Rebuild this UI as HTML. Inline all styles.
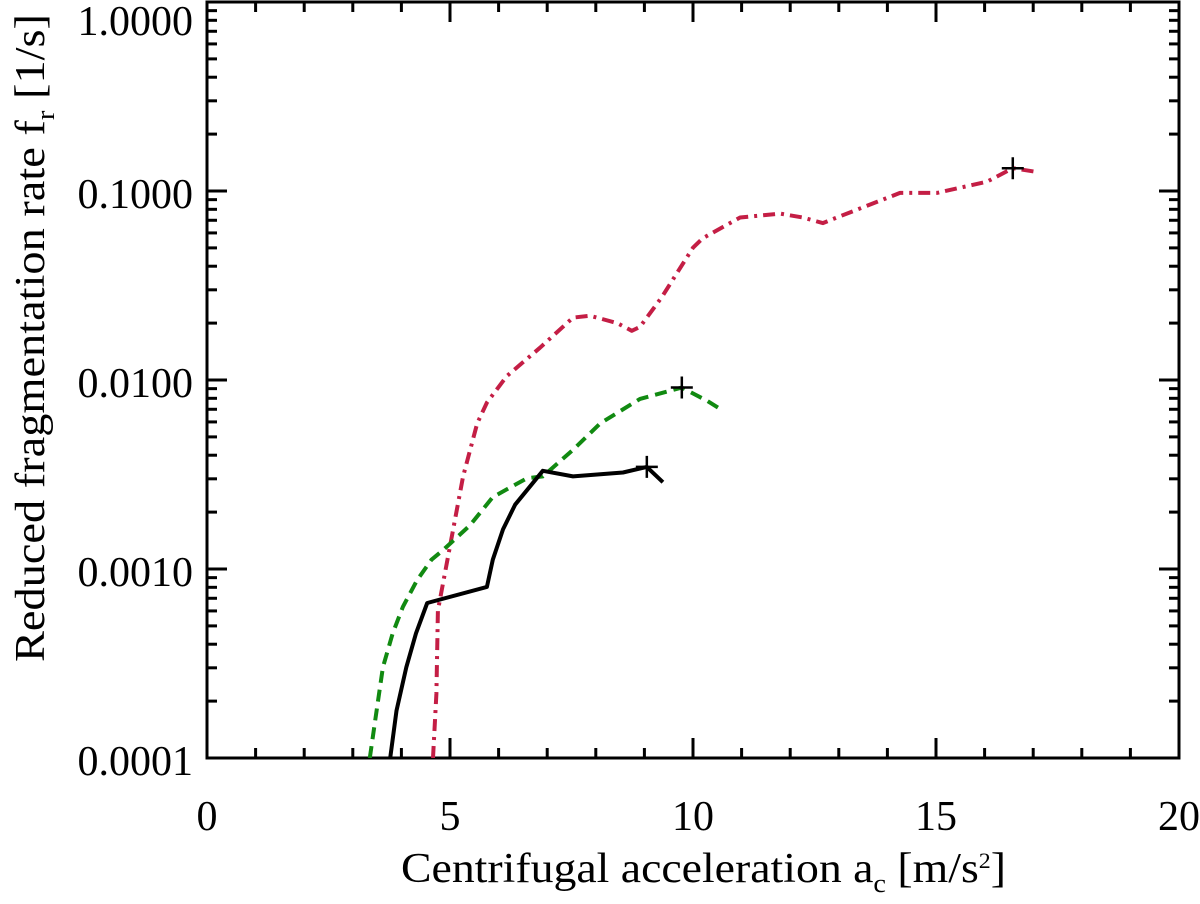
<!DOCTYPE html>
<html><head><meta charset="utf-8"><style>
html,body{margin:0;padding:0;background:#fff;}
svg{display:block;font-family:"Liberation Serif",serif;}
</style></head><body>
<svg id="chart" width="1200" height="904" viewBox="0 0 1200 904" xmlns="http://www.w3.org/2000/svg">
<g id="axes"></g>
<g id="series"></g>
<text x="401" y="882" font-size="42" textLength="605" lengthAdjust="spacingAndGlyphs">Centrifugal acceleration a<tspan font-size="26" dy="10">c</tspan><tspan dy="-10"> [m/s</tspan><tspan font-size="22" dy="-14">2</tspan><tspan dy="14">]</tspan></text>
<text transform="translate(44,662) rotate(-90)" font-size="42" textLength="648" lengthAdjust="spacingAndGlyphs">Reduced fragmentation rate f<tspan font-size="26" dy="10">r</tspan><tspan dy="-10"> [1/s]</tspan></text>
</svg>
<script>
const xTickLabels = ["0","5","10","15","20"];
const xTickValues = [0,5,10,15,20];
const yTickValues = [1,0.1,0.01,0.001,0.0001];
const yTickLabels = ["1.0000","0.1000","0.0100","0.0010","0.0001"];

const blackX = [3.77,3.9,4.1,4.3,4.53,5.76,5.88,6.09,6.34,6.91,7.53,8.56,9.05,9.38];
const blackY = [1e-4,1.78e-4,3.02e-4,4.57e-4,6.61e-4,8.04e-4,1.12e-3,1.62e-3,2.19e-3,3.31e-3,3.09e-3,3.24e-3,3.47e-3,2.88e-3];
const greenX = [3.35,3.49,3.62,3.82,4.03,4.32,4.62,4.86,5.41,5.88,6.58,6.91,7.53,8.09,8.91,9.77,10.29,10.6];
const greenY = [1e-4,1.78e-4,3.02e-4,4.57e-4,6.31e-4,8.71e-4,1.12e-3,1.26e-3,1.70e-3,2.40e-3,3.02e-3,3.09e-3,4.27e-3,5.89e-3,7.94e-3,9.12e-3,7.76e-3,6.92e-3];
const redX = [4.65,4.72,4.75,5.0,5.27,5.56,5.76,6.17,6.85,7.53,7.88,8.44,8.74,8.91,9.36,10.0,10.2,10.97,11.79,12.26,12.67,12.96,14.26,15.02,16.05,16.58,17.08];
const redY = [1e-4,2.19e-4,6.03e-4,1.32e-3,3.09e-3,5.89e-3,7.59e-3,0.0105,0.0148,0.0214,0.0219,0.0200,0.0182,0.0191,0.0275,0.0501,0.0562,0.0724,0.0759,0.0724,0.0676,0.0724,0.0977,0.0977,0.112,0.132,0.126];
const markerX = [9.05,9.77,16.58];
const markerY = [3.47e-3,9.12e-3,0.132];

const L=207,R=1179,T=2,B=758;
const xMin=0,xMax=20,yMinLog=-4,yMaxLog=0;
function sx(v){return L+(v-xMin)/(xMax-xMin)*(R-L);}
function sy(v){return B-(Math.log10(v)-yMinLog)/(yMaxLog-yMinLog)*(B-T);}
const NS="http://www.w3.org/2000/svg";
function mk(tag,attrs,parent){const e=document.createElementNS(NS,tag);for(const k in attrs)e.setAttribute(k,attrs[k]);parent.appendChild(e);return e;}
const axes=document.getElementById('axes');
const frame=mk('rect',{x:L,y:T,width:R-L,height:B-T,fill:'none',stroke:'#000','stroke-width':3},axes);


for(let v=0;v<=20;v++){
  const major=v%5===0, len=major?20:10, x=sx(v);
  const t1=mk('line',{x1:x,x2:x,y1:B,y2:B-len,stroke:'#000','stroke-width':3},axes);
  
  
  const t2=mk('line',{x1:x,x2:x,y1:T,y2:T+len,stroke:'#000','stroke-width':3},axes);
  
  
}
xTickValues.forEach((v,i)=>{
  const t=mk('text',{x:sx(v),y:830,'font-size':42,'text-anchor':'middle'},axes);
  t.textContent=xTickLabels[i];
  
  
});
for(let d=-4;d<=0;d++){
  for(let m=1;m<=9;m++){
    const v=m*Math.pow(10,d); if(v>1.0001)break;
    const y=sy(v), len=m===1?20:10;
    const a=mk('line',{x1:L,x2:L+len,y1:y,y2:y,stroke:'#000','stroke-width':3},axes);
    
    
    const b=mk('line',{x1:R,x2:R-len,y1:y,y2:y,stroke:'#000','stroke-width':3},axes);
    
    
  }
}
yTickValues.forEach((v,i)=>{
  const yy=Math.max(sy(v)+17,35);
  const t=mk('text',{x:193,y:yy,'font-size':42,'text-anchor':'end'},axes);
  t.textContent=yTickLabels[i];
  
  
});
const ser=document.getElementById('series');
const clip=mk('clipPath',{id:'pc'},ser); mk('rect',{x:L,y:T,width:R-L,height:B-T},clip);
function line(xs,ys,color,dash,name){
  const d=xs.map((x,i)=>(i?'L':'M')+sx(x).toFixed(1)+','+sy(ys[i]).toFixed(1)).join(' ');
  const p=mk('path',{d:d,fill:'none',stroke:color,'stroke-width':4,'stroke-linejoin':'round','stroke-dasharray':dash,'clip-path':'url(#pc)'},ser);
  
  
}
line(redX,redY,'#c41e45','12 6 3 6','series-red-dashdot');
line(greenX,greenY,'#118a11','12 7','series-green-dashed');
line(blackX,blackY,'#000','none','series-black-solid');
markerX.forEach((x,i)=>{
  const cx=sx(x), cy=sy(markerY[i]);
  const p=mk('path',{d:`M${cx-11},${cy}H${cx+11}M${cx},${cy-11}V${cy+11}`,stroke:'#000','stroke-width':2.5},ser);
  
  
});
</script>
</body></html>
